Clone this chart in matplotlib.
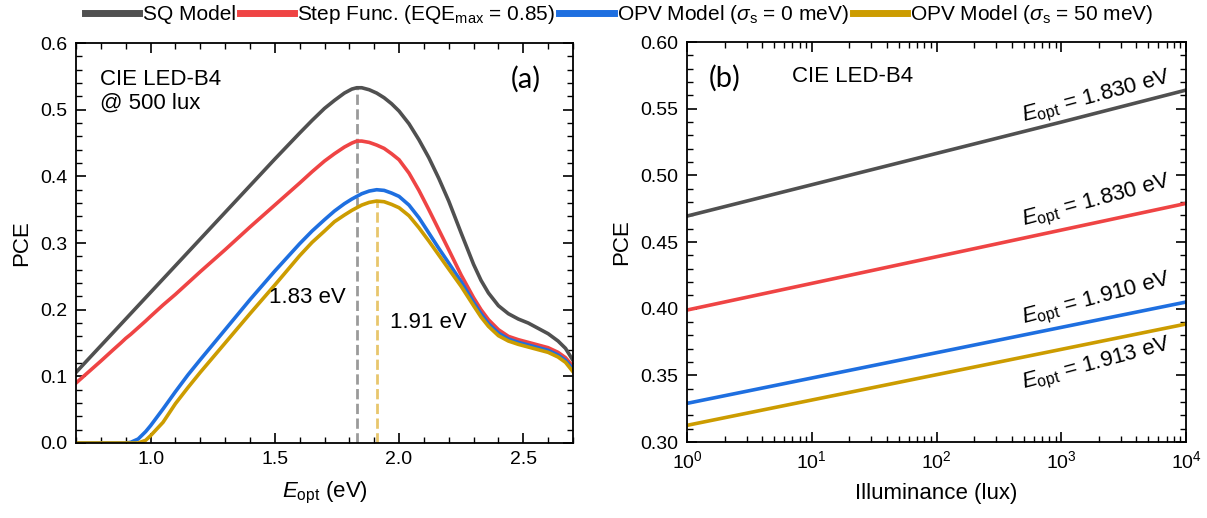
import matplotlib
matplotlib.use('Agg')
import matplotlib.pyplot as plt
from matplotlib.ticker import MultipleLocator, LogLocator, NullFormatter, FormatStrFormatter

plt.rcParams['font.family'] = ['Liberation Sans', 'DejaVu Sans']
plt.rcParams['mathtext.fontset'] = 'custom'
plt.rcParams['mathtext.rm'] = 'Liberation Sans'
plt.rcParams['mathtext.it'] = 'Liberation Sans:italic'
plt.rcParams['mathtext.bf'] = 'Liberation Sans:bold'

# (a) PCE vs optical gap, CIE LED-B4 at 500 lux
e_opt = [0.70, 0.80, 0.85, 0.88, 0.90, 0.92, 0.95, 0.98, 1.00, 1.05, 1.10, 1.15,
         1.20, 1.30, 1.40, 1.50, 1.60, 1.65, 1.70, 1.74, 1.78, 1.81, 1.83, 1.85,
         1.88, 1.91, 1.94, 1.97, 2.00, 2.04, 2.08, 2.12, 2.16, 2.20, 2.25, 2.30,
         2.33, 2.36, 2.40, 2.44, 2.48, 2.52, 2.56, 2.60, 2.64, 2.67, 2.70]
pce_sq = [0.106, 0.146, 0.166, 0.178, 0.186, 0.194, 0.206, 0.218, 0.226, 0.246, 0.266, 0.286,
          0.306, 0.346, 0.386, 0.426, 0.465, 0.484, 0.502, 0.514, 0.525, 0.531, 0.533, 0.533,
          0.530, 0.525, 0.518, 0.509, 0.498, 0.479, 0.455, 0.428, 0.397, 0.363, 0.315, 0.268,
          0.244, 0.225, 0.206, 0.194, 0.186, 0.180, 0.172, 0.164, 0.153, 0.142, 0.124]
pce_step = [0.090, 0.123, 0.140, 0.150, 0.157, 0.163, 0.173, 0.183, 0.190, 0.207, 0.223, 0.240,
            0.257, 0.290, 0.324, 0.357, 0.390, 0.407, 0.423, 0.434, 0.444, 0.450, 0.453, 0.453,
            0.451, 0.447, 0.442, 0.434, 0.425, 0.405, 0.379, 0.350, 0.320, 0.290, 0.252, 0.218,
            0.200, 0.185, 0.170, 0.160, 0.155, 0.151, 0.147, 0.143, 0.136, 0.128, 0.115]
pce_opv0 = [0.0, 0.0, 0.0, 0.0, 0.0, 0.001, 0.006, 0.017, 0.026, 0.051, 0.077, 0.102,
            0.125, 0.170, 0.215, 0.258, 0.299, 0.318, 0.335, 0.348, 0.359, 0.366, 0.370, 0.374,
            0.378, 0.380, 0.379, 0.375, 0.370, 0.357, 0.338, 0.315, 0.292, 0.270, 0.242, 0.211,
            0.194, 0.179, 0.165, 0.156, 0.151, 0.147, 0.143, 0.139, 0.132, 0.124, 0.111]
pce_opv50 = [0.0, 0.0, 0.0, 0.0, 0.0, 0.0, 0.0, 0.004, 0.011, 0.031, 0.059, 0.083,
             0.106, 0.150, 0.194, 0.237, 0.281, 0.301, 0.318, 0.332, 0.342, 0.349, 0.353, 0.357,
             0.361, 0.363, 0.362, 0.358, 0.353, 0.341, 0.323, 0.303, 0.282, 0.261, 0.235, 0.206,
             0.189, 0.175, 0.161, 0.153, 0.148, 0.144, 0.140, 0.136, 0.129, 0.121, 0.107]
peak_sq = (1.83, 0.533)
peak_opv = (1.91, 0.363)

# (b) PCE at optimum gap vs illuminance
lux = [1, 10, 100, 1000, 10000]
lux_sq = [0.4695, 0.493, 0.5165, 0.540, 0.564]
lux_step = [0.399, 0.419, 0.439, 0.459, 0.479]
lux_opv0 = [0.329, 0.348, 0.367, 0.386, 0.405]
lux_opv50 = [0.3125, 0.3315, 0.3505, 0.3695, 0.3885]
gap_labels = ['1.830', '1.830', '1.910', '1.913']

c_sq = '#505050'
c_step = '#ef4444'
c_opv0 = '#1e6fe0'
c_opv50 = '#cc9c00'
lw = 2.6

fig = plt.figure(figsize=(12.07, 5.18), dpi=100)
ax1 = fig.add_axes([0.063, 0.1448, 0.4117, 0.772])
ax2 = fig.add_axes([0.5692, 0.1467, 0.4134, 0.772])

ax1.plot([peak_sq[0]] * 2, [0, peak_sq[1]], ls='--', color='#9a9a9a', lw=2, zorder=1)
ax1.plot([peak_opv[0]] * 2, [0, peak_opv[1]], ls='--', color='#e8c66c', lw=2, zorder=1)
l1, = ax1.plot(e_opt, pce_sq, color=c_sq, lw=lw)
l2, = ax1.plot(e_opt, pce_step, color=c_step, lw=lw)
l3, = ax1.plot(e_opt, pce_opv0, color=c_opv0, lw=lw)
l4, = ax1.plot(e_opt, pce_opv50, color=c_opv50, lw=lw)

ax1.set_xlim(0.7, 2.7)
ax1.set_ylim(0, 0.6)
ax1.xaxis.set_major_locator(MultipleLocator(0.5))
ax1.xaxis.set_minor_locator(MultipleLocator(0.1))
ax1.yaxis.set_major_locator(MultipleLocator(0.1))
ax1.yaxis.set_minor_locator(MultipleLocator(0.02))
ax1.xaxis.set_major_formatter(FormatStrFormatter('%.1f'))
ax1.yaxis.set_major_formatter(FormatStrFormatter('%.1f'))
ax1.set_xlabel(r'$E_{\mathrm{opt}}$ (eV)', fontsize=16, labelpad=8)
ax1.set_ylabel('PCE', fontsize=16, labelpad=6)
ax1.text(0.048, 0.935, 'CIE LED-B4\n@ 500 lux', transform=ax1.transAxes,
         fontsize=16, va='top', ha='left', linespacing=1.15)
ax1.text(0.905, 0.91, '(a)', transform=ax1.transAxes, fontsize=21,
         family=['Lato', 'DejaVu Sans'], ha='center', va='center')
ax1.text(1.785, 0.219, '1.83 eV', fontsize=16, ha='right', va='center')
ax1.text(1.965, 0.181, '1.91 eV', fontsize=16, ha='left', va='center')

for y, c in zip([lux_sq, lux_step, lux_opv0, lux_opv50], [c_sq, c_step, c_opv0, c_opv50]):
    ax2.plot(lux, y, color=c, lw=lw)
ax2.set_xscale('log')
ax2.set_xlim(1, 1e4)
ax2.set_ylim(0.30, 0.60)
ax2.xaxis.set_major_locator(LogLocator(base=10, numticks=10))
ax2.xaxis.set_minor_locator(LogLocator(base=10, subs=range(2, 10), numticks=10))
ax2.xaxis.set_minor_formatter(NullFormatter())
ax2.yaxis.set_major_locator(MultipleLocator(0.05))
ax2.yaxis.set_minor_locator(MultipleLocator(0.01))
ax2.yaxis.set_major_formatter(FormatStrFormatter('%.2f'))
ax2.set_xlabel('Illuminance (lux)', fontsize=16, labelpad=8)
ax2.set_ylabel('PCE', fontsize=16, labelpad=6)
ax2.text(0.075, 0.91, '(b)', transform=ax2.transAxes, fontsize=21,
         family=['Lato', 'DejaVu Sans'], ha='center', va='center')
ax2.text(0.21, 0.915, 'CIE LED-B4', transform=ax2.transAxes, fontsize=16,
         ha='left', va='center')

label_pos = [0.558, 0.480, 0.4065, 0.3578]
for g, yp in zip(gap_labels, label_pos):
    ax2.text(1936, yp, r'$E_{\mathrm{opt}}$ = ' + g + ' eV', fontsize=16,
             rotation=15, rotation_mode='anchor', ha='center', va='center')

for ax in (ax1, ax2):
    ax.tick_params(which='both', direction='in', top=True, right=True,
                   labelsize=14, pad=6)
    ax.tick_params(which='major', length=7, width=1.2)
    ax.tick_params(which='minor', length=4, width=1.0)
    for s in ax.spines.values():
        s.set_linewidth(1.3)

fig.legend([l1, l2, l3, l4],
           ['SQ Model', r'Step Func. (EQE$_{\mathrm{max}}$ = 0.85)',
            r'OPV Model ($\sigma_{\mathrm{s}}$ = 0 meV)',
            r'OPV Model ($\sigma_{\mathrm{s}}$ = 50 meV)'],
           loc='center', bbox_to_anchor=(0.513, 0.972), ncol=4, frameon=False,
           fontsize=15, handlelength=2.6, handletextpad=0.15, columnspacing=0.2,
           borderpad=0.1)
for h in fig.legends[0].get_lines():
    h.set_linewidth(5)

fig.savefig('out.png', dpi=100)
